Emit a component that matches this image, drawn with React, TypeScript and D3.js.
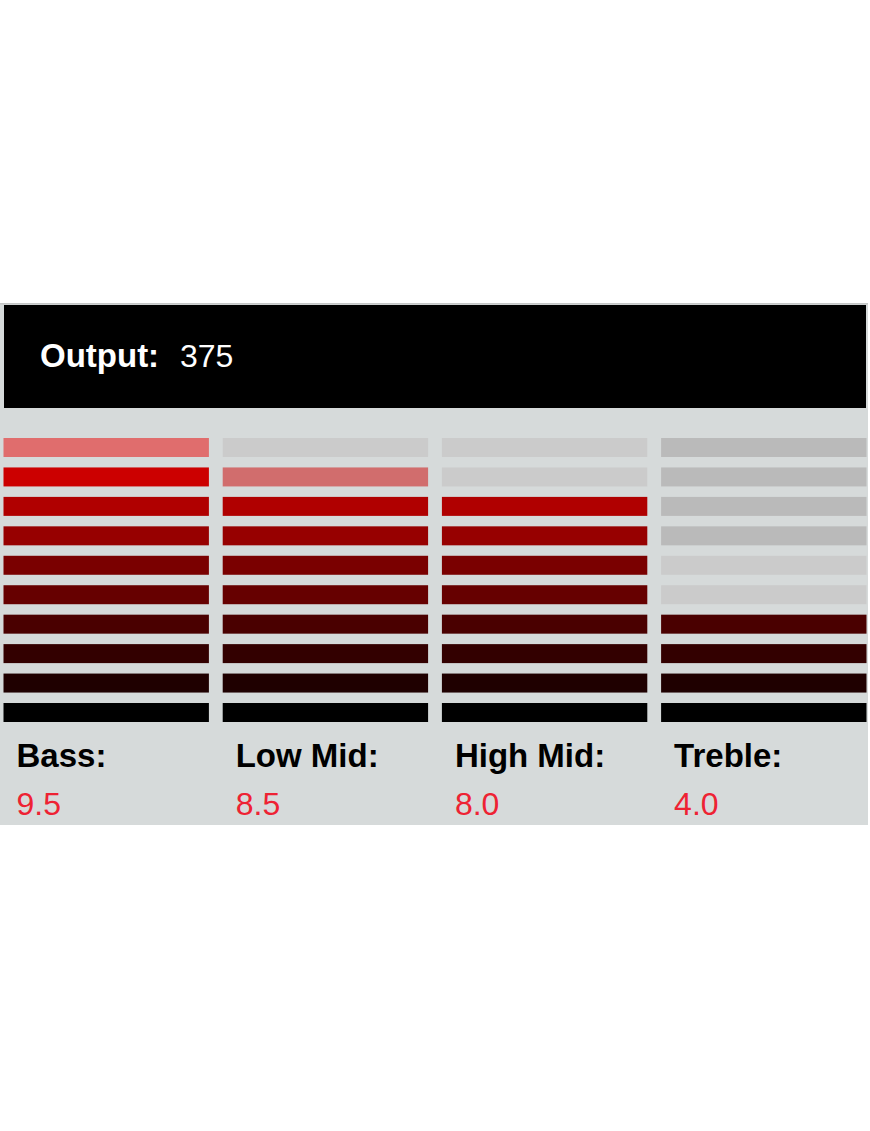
import React from "react";
import * as d3 from "d3";

const bands = ["Bass", "Low Mid", "High Mid", "Treble"];
const bandValues = [9.5, 8.5, 8.0, 4.0];
const outputValue = 375;
const levels = [10, 9, 8, 7, 6, 5, 4, 3, 2, 1];
const levelColors = ["#000000", "#1f0000", "#330000", "#4a0000", "#660000", "#7a0000", "#970000", "#b00000", "#cc0000", "#ea0000"];
// unlit segment shade per band, per level (1..10)
const unlitShades = [
  ["#cbcbcb", "#cbcbcb", "#cbcbcb", "#cbcbcb", "#cbcbcb", "#cbcbcb", "#cbcbcb", "#cbcbcb", "#cbcbcb", "#cbcbcb"],
  ["#cbcbcb", "#cbcbcb", "#cbcbcb", "#cbcbcb", "#cbcbcb", "#cbcbcb", "#cbcbcb", "#cbcbcb", "#cbcbcb", "#cbcbcb"],
  ["#cbcbcb", "#cbcbcb", "#cbcbcb", "#cbcbcb", "#cbcbcb", "#cbcbcb", "#cbcbcb", "#cbcbcb", "#cbcbcb", "#cbcbcb"],
  ["#cbcbcb", "#cbcbcb", "#cbcbcb", "#cbcbcb", "#cbcbcb", "#cbcbcb", "#bababa", "#bababa", "#bababa", "#bababa"],
];

const W = 870;
const H = 1131;
const BG = "#d6dada";
const FONT = "'Liberation Sans', Arial, sans-serif";

export default function App() {
  const x = d3.scaleBand<string>().domain(bands).range([3.5, 866.5]).paddingInner(0.063).paddingOuter(0);
  const y = d3.scaleBand<number>().domain(levels).range([438, 722]).paddingInner(0.355).paddingOuter(0);

  return (
    <svg
      width={W}
      height={H}
      style={{ position: "absolute", left: 0, top: 0, background: "#ffffff" }}
    >
      <rect x={0} y={303} width={868} height={522} fill={BG} />
      <rect x={0} y={303} width={868} height={1.5} fill="#c4c6c6" />
      <rect x={4} y={305} width={862} height={103} fill="#000000" />
      <text x={40} y={367} fontFamily={FONT} fontSize={33} fill="#ffffff">
        <tspan fontWeight="bold">Output:</tspan>
      </text>
      <text x={180} y={367} fontFamily={FONT} fontSize={32} fill="#ffffff">
        {outputValue}
      </text>
      {bands.map((b, bi) => {
        const v = bandValues[bi];
        return (
          <g key={b}>
            {levels.map((lv) => {
              let fill = unlitShades[bi][lv - 1];
              let fillOpacity = 1;
              let bgUnder = false;
              if (v >= lv) {
                fill = levelColors[lv - 1];
              } else if (v >= lv - 0.5) {
                fill = levelColors[lv - 1];
                fillOpacity = 0.5;
                bgUnder = true;
              }
              return (
                <g key={lv}>
                  {bgUnder && (
                    <rect x={x(b)} y={y(lv)} width={x.bandwidth()} height={y.bandwidth()} fill={BG} />
                  )}
                  <rect
                    x={x(b)}
                    y={y(lv)}
                    width={x.bandwidth()}
                    height={y.bandwidth()}
                    fill={fill}
                    fillOpacity={fillOpacity}
                  />
                </g>
              );
            })}
            <text x={(x(b) as number) + 13} y={767} fontFamily={FONT} fontSize={33} fontWeight="bold" fill="#000000">
              {b}:
            </text>
            <text x={(x(b) as number) + 13} y={815} fontFamily={FONT} fontSize={32} fill="#ee2233">
              {v.toFixed(1)}
            </text>
          </g>
        );
      })}
    </svg>
  );
}
